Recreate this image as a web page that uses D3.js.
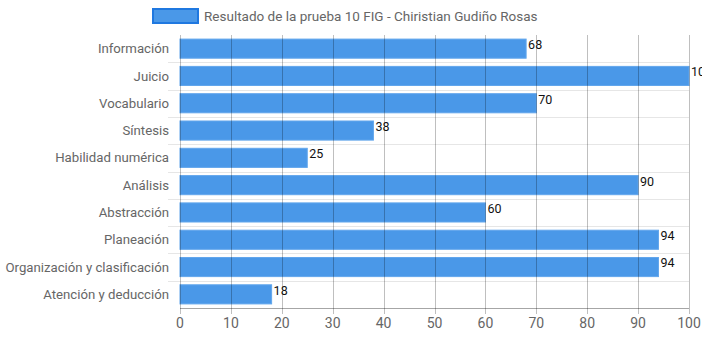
<!DOCTYPE html>
<html>
<head>
<meta charset="utf-8">
<script src="https://cdn.jsdelivr.net/npm/d3@7"></script>
<style>
  html, body { margin: 0; padding: 0; background: #fff; }
  svg { display: block; }
  text { font-family: Roboto, "Liberation Sans", Arial, sans-serif; }
</style>
</head>
<body>
<svg id="chart" width="702" height="338"></svg>
<script>
// Test areas and scores
const categories = [
  "Información", "Juicio", "Vocabulario", "Síntesis", "Habilidad numérica",
  "Análisis", "Abstracción", "Planeación", "Organización y clasificación",
  "Atención y deducción"
];
const scores = [68, 100, 70, 38, 25, 90, 60, 94, 94, 18];
const xTicks = [0, 10, 20, 30, 40, 50, 60, 70, 80, 90, 100];
const seriesName = "Resultado de la prueba 10 FIG - Chiristian Gudiño Rosas";

const W = 702, H = 338;
const margin = { left: 180, right: 13, top: 35, bottom: 30 };
const svg = d3.select("#chart");

const x = d3.scaleLinear().domain([0, 100]).range([margin.left, W - margin.right]);
const y = d3.scaleBand().domain(categories).range([margin.top, H - margin.bottom])
  .paddingInner(0.3).paddingOuter(0.15);
const yGrid = d3.scaleBand().domain(categories).range([margin.top, H - margin.bottom]);

const barFill = "#4a98e8";
const barStroke = "#62a6ec";

// Horizontal grid lines between categories
svg.append("g").selectAll("line")
  .data(categories.slice(1))
  .join("line")
  .attr("x1", margin.left - 12).attr("x2", W - margin.right)
  .attr("y1", d => Math.round(yGrid(d)) + 0.5)
  .attr("y2", d => Math.round(yGrid(d)) + 0.5)
  .attr("stroke", "#e6e6e6").attr("stroke-width", 1);

// Bars
svg.append("g").selectAll("rect")
  .data(categories)
  .join("rect")
  .attr("x", x(0))
  .attr("y", d => y(d))
  .attr("width", (d, i) => x(scores[i]) - x(0))
  .attr("height", y.bandwidth())
  .attr("fill", barFill)
  .attr("stroke", barStroke)
  .attr("stroke-width", 1);

// Vertical grid lines drawn over the bars
svg.append("g").selectAll("line")
  .data(xTicks)
  .join("line")
  .attr("x1", d => Math.round(x(d)) + 0.5)
  .attr("x2", d => Math.round(x(d)) + 0.5)
  .attr("y1", margin.top)
  .attr("y2", H - margin.bottom + 6)
  .attr("stroke", "rgba(0,0,0,0.25)").attr("stroke-width", 1);

// Bottom axis line
svg.append("line")
  .attr("x1", margin.left).attr("x2", W - margin.right)
  .attr("y1", H - margin.bottom + 0.5).attr("y2", H - margin.bottom + 0.5)
  .attr("stroke", "rgba(0,0,0,0.35)");

// X tick labels
svg.append("g").selectAll("text")
  .data(xTicks)
  .join("text")
  .attr("x", d => x(d))
  .attr("y", H - 10)
  .attr("text-anchor", "middle")
  .attr("font-size", 14)
  .attr("fill", "#666")
  .text(d => d);

// Category labels
svg.append("g").selectAll("text")
  .data(categories)
  .join("text")
  .attr("x", margin.left - 11)
  .attr("y", d => yGrid(d) + yGrid.bandwidth() / 2)
  .attr("dy", "0.35em")
  .attr("text-anchor", "end")
  .attr("font-size", 13.2)
  .attr("fill", "#666")
  .text(d => d);

// Value labels at the end of each bar
svg.append("g").selectAll("text")
  .data(categories)
  .join("text")
  .attr("x", (d, i) => x(scores[i]) + 2)
  .attr("y", d => y(d) + 10)
  .attr("font-family", "'Liberation Sans Narrow', 'DejaVu Sans Condensed', sans-serif")
  .attr("font-size", 12.5)
  .attr("fill", "#111")
  .text((d, i) => scores[i]);

// Legend
const legend = svg.append("g");
legend.append("rect")
  .attr("x", 153).attr("y", 9).attr("width", 45).attr("height", 14)
  .attr("fill", barFill).attr("stroke", "#1f78e0").attr("stroke-width", 2);
legend.append("text")
  .attr("x", 204).attr("y", 16).attr("dy", "0.35em")
  .attr("font-size", 13.5).attr("fill", "#666")
  .text(seriesName);
</script>
</body>
</html>
